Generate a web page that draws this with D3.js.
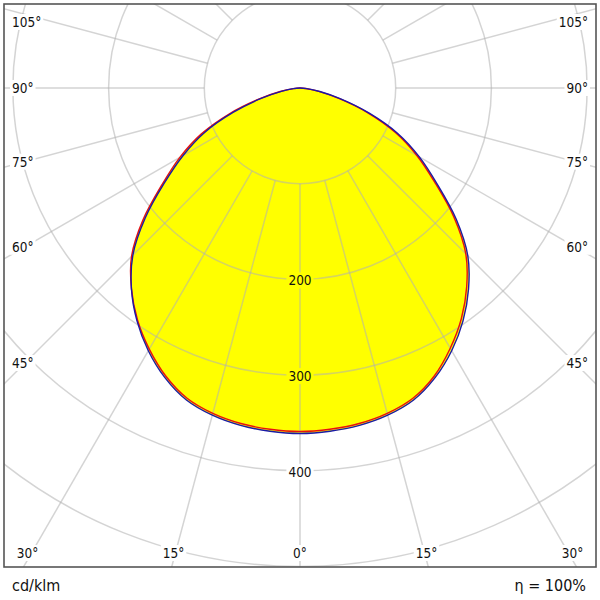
<meta charset="utf-8">
<script src="https://d3js.org/d3.v7.js"></script>
<style>
body { margin: 0; background: white; }
svg { font-family: 'DejaVu Sans Condensed', 'DejaVu Sans', sans-serif; }
</style>
<div id="ldc"></div>
<script>
// gamma angles from nadir, one value per 5 deg, for each half plane (cd/klm)
var gammas = [0, 5, 10, 15, 20, 25, 30, 35, 40, 45, 50, 55, 60, 65, 70, 75, 80, 85, 90];
var c0   = [359, 358, 356, 352, 345, 332, 314, 294, 271, 245, 210, 172, 141, 110, 75, 42, 19, 6, 0];
var c180 = [359, 358, 356, 352, 345, 332, 315, 296, 274, 249, 214, 176, 145, 114, 78, 44, 21, 7, 0];
var c90  = [361, 360, 358, 354, 347, 334, 317, 297, 274, 248, 213, 175, 144, 113, 77, 44, 21, 7, 0];
var c270 = [361, 360, 358, 354, 347, 334, 317, 297, 274, 247, 211, 173, 141, 110, 74, 42, 19, 7, 0];

var rings = [100, 200, 300, 400, 500];
var ringLabels = [200, 300, 400];
var angleLabels = [0, 15, 30, 45, 60, 75, 90, 105];
var unitText = "cd/klm";
var etaText = "η = 100%";

var W = 600, H = 600;
var box = {x: 4, y: 4, w: 592, h: 563};
var cx = 300, cy = 88;

var r = d3.scaleLinear().domain([0, 100]).range([0, 95.7]);
var rad = function (deg) { return deg * Math.PI / 180; };

var svg = d3.select("#ldc").append("svg")
    .attr("width", W)
    .attr("height", H);

svg.append("rect").attr("width", W).attr("height", H).attr("fill", "white");

svg.append("clipPath").attr("id", "boxclip")
  .append("rect")
    .attr("x", box.x).attr("y", box.y)
    .attr("width", box.w).attr("height", box.h);

var plot = svg.append("g")
    .attr("clip-path", "url(#boxclip)")
  .append("g")
    .attr("transform", "translate(" + cx + "," + cy + ")");

// build one closed curve from the two half planes (left side, right side)
function planePoints(left, right) {
  var pts = [];
  for (var i = gammas.length - 1; i >= 0; i--) pts.push([Math.PI + rad(gammas[i]), r(left[i])]);
  for (var j = 1; j < gammas.length - 1; j++) pts.push([Math.PI - rad(gammas[j]), r(right[j])]);
  return pts;
}

var line = d3.lineRadial()
    .angle(function (d) { return d[0]; })
    .radius(function (d) { return d[1]; })
    .curve(d3.curveCatmullRomClosed);

var planeRed = planePoints(c180, c0);
var planeBlue = planePoints(c270, c90);

// fill
plot.append("path").attr("d", line(planeRed)).attr("fill", "#ffff00");
plot.append("path").attr("d", line(planeBlue)).attr("fill", "#ffff00");

// grid
var grid = plot.append("g")
    .attr("fill", "none")
    .attr("stroke", "#b0b0b0")
    .attr("stroke-opacity", 0.55)
    .attr("stroke-width", 1.5);

grid.selectAll("circle")
  .data(rings)
  .enter()
  .append("circle")
    .attr("r", function (d) { return r(d); });

grid.selectAll("line")
  .data(d3.range(0, 360, 15))
  .enter()
  .append("line")
    .attr("x1", function (d) { return r(100) * Math.sin(rad(d)); })
    .attr("y1", function (d) { return r(100) * Math.cos(rad(d)); })
    .attr("x2", function (d) { return r(700) * Math.sin(rad(d)); })
    .attr("y2", function (d) { return r(700) * Math.cos(rad(d)); });

// label with a knock-out background
function label(g, x, y, txt, anchor, bg, size) {
  var t = g.append("text")
      .attr("x", x).attr("y", y)
      .attr("text-anchor", anchor)
      .attr("dominant-baseline", "central")
      .attr("font-size", size)
      .attr("fill", "#111")
      .text(txt);
  var b = t.node().getBBox();
  g.insert("rect", "text")
      .attr("x", b.x - 2).attr("y", b.y)
      .attr("width", b.width + 4).attr("height", b.height)
      .attr("fill", bg);
}

var labels = svg.append("g");

ringLabels.forEach(function (v) {
  var inside = v < c0[0];
  label(labels, cx, cy + r(v) + 1, String(v), "middle", inside ? "#ffff00" : "white", 13.5);
});

// angle labels where each ray meets a rectangle inset from the frame
var inset = {left: 25, right: 575, top: 22, bottom: 560};
angleLabels.forEach(function (a) {
  [-1, 1].forEach(function (side) {
    if (a === 0 && side === 1) return;
    var dx = Math.sin(rad(a)) * side, dy = Math.cos(rad(a));
    var tx = dx !== 0 ? (side < 0 ? (inset.left - cx) / dx : (inset.right - cx) / dx) : Infinity;
    var ty = dy > 0 ? (inset.bottom - cy) / dy : Infinity;
    var x, y, anchor;
    if (ty < tx) {
      // bottom edge
      x = cx + dx * ty;
      y = 553;
      anchor = "middle";
    } else {
      // side edge
      y = Math.max(cy + dy * tx, inset.top);
      x = side < 0 ? 12 : 588;
      anchor = side < 0 ? "start" : "end";
    }
    label(labels, x, y, a + "°", anchor, "white", 13.5);
  });
});

// curves
plot.append("path").attr("d", line(planeRed))
    .attr("fill", "none").attr("stroke", "#e81010").attr("stroke-width", 1.4);
plot.append("path").attr("d", line(planeBlue))
    .attr("fill", "none").attr("stroke", "#1a1aa6").attr("stroke-width", 1.4);

// frame
svg.append("rect")
    .attr("x", box.x).attr("y", box.y)
    .attr("width", box.w).attr("height", box.h)
    .attr("fill", "none")
    .attr("stroke", "#555")
    .attr("stroke-width", 1.6);

svg.append("text")
    .attr("x", 12).attr("y", 591)
    .attr("font-size", 16)
    .attr("fill", "#111")
    .text(unitText);

svg.append("text")
    .attr("x", 586).attr("y", 591)
    .attr("text-anchor", "end")
    .attr("font-size", 16)
    .attr("fill", "#111")
    .text(etaText);
</script>
